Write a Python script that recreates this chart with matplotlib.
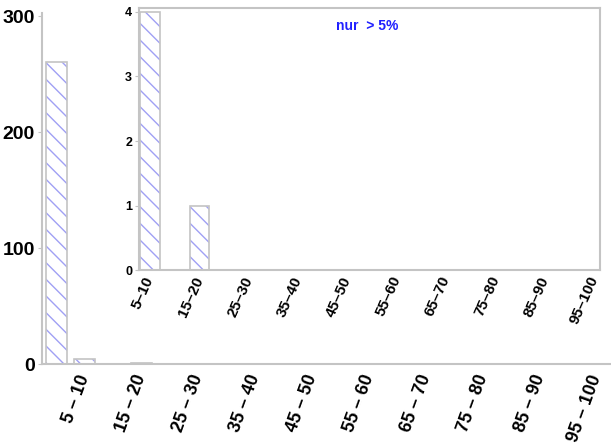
import numpy as np
import matplotlib.pyplot as plt

# Data
bins = ["0 – 5", "5 – 10", "10 – 15", "15 – 20", "20 – 25", "25 – 30", "30 – 35", "35 – 40",
        "40 – 45", "45 – 50", "50 – 55", "55 – 60", "60 – 65", "65 – 70", "70 – 75", "75 – 80",
        "80 – 85", "85 – 90", "90 – 95", "95 – 100"]
counts = [260, 4, 0, 1, 0, 0, 0, 0, 0, 0, 0, 0, 0, 0, 0, 0, 0, 0, 0, 0]

inset_labels = ["5–10", "15–20", "25–30", "35–40", "45–50", "55–60", "65–70", "75–80", "85–90", "95–100"]
inset_counts = [4, 1, 0, 0, 0, 0, 0, 0, 0, 0]

plt.rcParams["font.family"] = ["Liberation Sans", "DejaVu Sans"]
plt.rcParams["font.weight"] = "bold"
plt.rcParams["hatch.linewidth"] = 1.0

grey = "#c4c4c4"
hatch_col = "#a0a0f4"


def hatched_bars(axis, xs, heights, width):
    # hatch drawn in blue first, then a grey outline on top
    axis.bar(xs, heights, width=width, facecolor="white", edgecolor=hatch_col,
             hatch="\\\\", linewidth=0)
    axis.bar(xs, heights, width=width, fill=False, edgecolor=grey, linewidth=1.2)


fig = plt.figure(figsize=(6.11, 4.48), dpi=100)

# main axes
ax = fig.add_axes([0.0687, 0.1875, 0.9313, 0.7845])
x = np.arange(len(bins))
hatched_bars(ax, x, counts, 0.74)
ax.set_xlim(-0.5, 19.5)
ax.set_ylim(0, 303)
ax.set_yticks([0, 100, 200, 300])
ax.set_xticks(x[1::2])
ax.set_xticklabels(bins[1::2], rotation=70, ha="right", va="center", rotation_mode="anchor")
for lab in ax.get_xticklabels():
    lab.set_fontsize(13)
for lab in ax.get_yticklabels():
    lab.set_fontsize(14)
ax.tick_params(axis="x", length=0, pad=8)
ax.tick_params(axis="y", length=3, color=grey, pad=2)
for s in ["top", "right"]:
    ax.spines[s].set_visible(False)
for s in ["left", "bottom"]:
    ax.spines[s].set_color(grey)
    ax.spines[s].set_linewidth(1.5)

# inset
ins = fig.add_axes([0.2275, 0.397, 0.7545, 0.585])
xi = np.arange(len(inset_labels))
hatched_bars(ins, xi, inset_counts, 0.39)
ins.set_xlim(-0.22, 9.11)
ins.set_ylim(0, 4.06)
ins.set_yticks([0, 1, 2, 3, 4])
ins.set_xticks(xi)
ins.set_xticklabels(inset_labels, rotation=66, ha="right", va="center", rotation_mode="anchor")
for lab in ins.get_xticklabels():
    lab.set_fontsize(11)
for lab in ins.get_yticklabels():
    lab.set_fontsize(9)
ins.tick_params(axis="x", length=0, pad=5)
ins.tick_params(axis="y", length=3, color=grey, pad=2)
for s in ins.spines.values():
    s.set_color(grey)
    s.set_linewidth(1.5)
ins.text(0.428, 0.93, "nur  > 5%", transform=ins.transAxes, color="#2020ff",
         fontsize=10, fontweight="bold", va="center", ha="left")

fig.savefig("out.png", dpi=100)
